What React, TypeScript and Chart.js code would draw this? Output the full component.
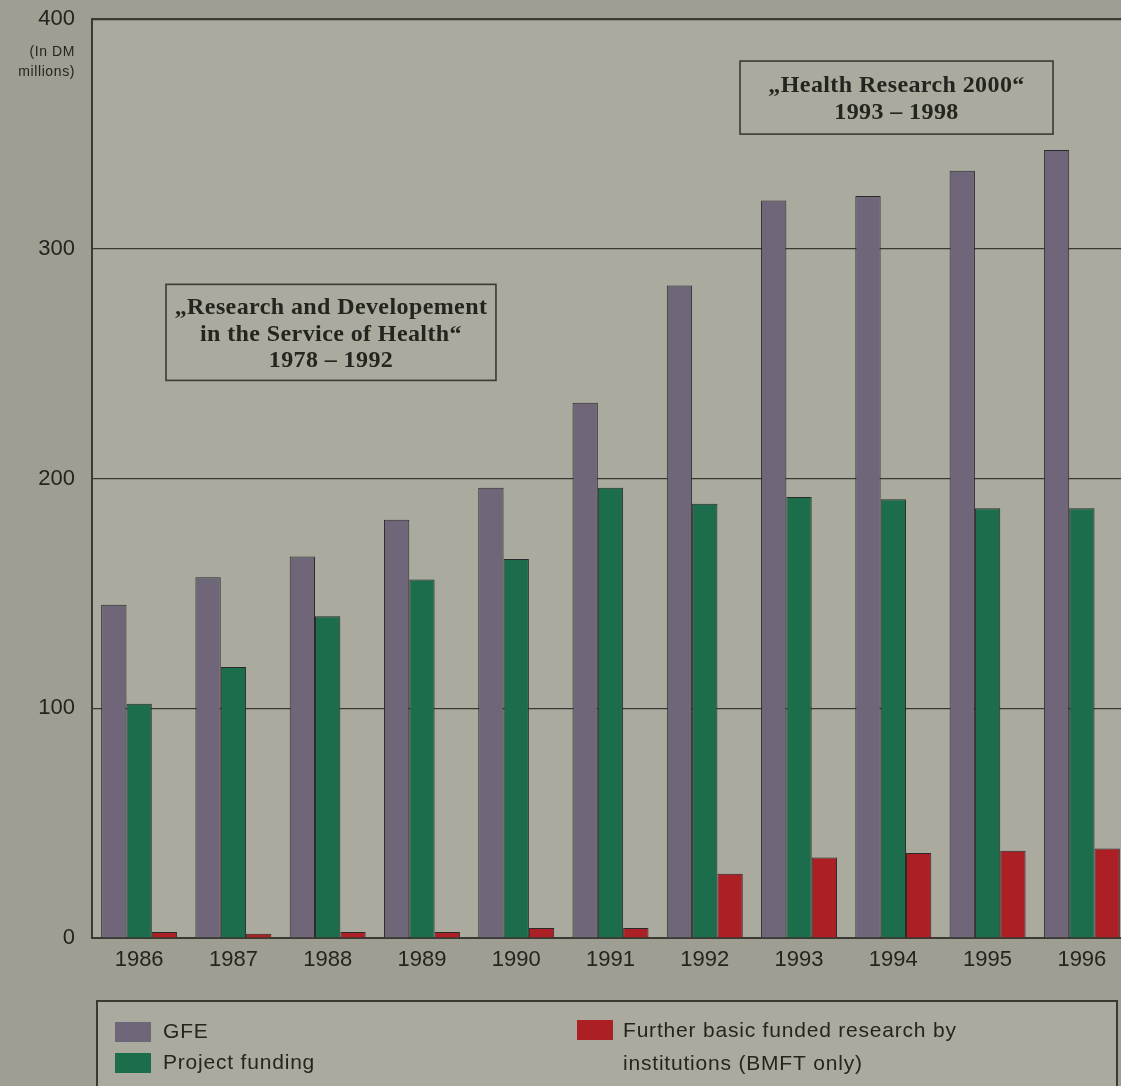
import React, { useEffect, useRef } from "react";
import { Chart, registerables } from "chart.js";

Chart.register(...registerables);

// ---- data ----
const years = ["1986", "1987", "1988", "1989", "1990", "1991", "1992", "1993", "1994", "1995", "1996"];
const gfe = [145, 157, 166, 182, 196, 233, 284, 321, 323, 334, 343];
const projectFunding = [102, 118, 140, 156, 165, 196, 189, 192, 191, 187, 187];
const furtherBasic = [2.6, 1.9, 2.6, 2.6, 4.4, 4.4, 28, 35, 37, 38, 39];
const yTickValues = [0, 100, 200, 300, 400];
const seriesLabels = ["GFE", "Project funding", "Further basic funded research by institutions (BMFT only)"];
const legendLines = [["GFE"], ["Project funding"], ["Further basic funded research by", "institutions (BMFT only)"]];
const axisNote = ["(In DM", "millions)"];
const researchBoxLines = ["\u201EResearch and Developement", "in the Service of Health\u201C", "1978 \u2013 1992"];
const healthBoxLines = ["\u201EHealth Research 2000\u201C", "1993 \u2013 1998"];

// ---- styles ----
const OUTER_BG = "#9f9e92";
const PLOT_BG = "#abaa9e";
const INK = "#25251f";
const LINE = "#3a3a33";
const COLORS = ["#6f6679", "#1c6d4b", "#ab1f25"];
const SANS = "'Liberation Sans', Arial, sans-serif";
const SERIF = "'Liberation Serif', 'Times New Roman', serif";

const decorPlugin = {
  id: "decor",
  beforeDraw(chart: any) {
    const { ctx, chartArea } = chart;
    ctx.save();
    ctx.fillStyle = OUTER_BG;
    ctx.fillRect(0, 0, chart.width, chart.height);
    ctx.fillStyle = PLOT_BG;
    ctx.fillRect(chartArea.left, chartArea.top, chartArea.right - chartArea.left, chartArea.bottom - chartArea.top);
    ctx.restore();
  },
  afterDraw(chart: any) {
    const { ctx, scales } = chart;
    const xs = scales.x;
    const ys = scales.y;
    ctx.save();

    // axis note under "400"
    ctx.fillStyle = INK;
    ctx.font = `14px ${SANS}`;
    ctx.textAlign = "right";
    ctx.textBaseline = "middle";
    (ctx as any).letterSpacing = "0.6px";
    const yTop = ys.getPixelForValue(400);
    ctx.fillText(axisNote[0], 75, yTop + 33);
    ctx.fillText(axisNote[1], 75, yTop + 53);

    // annotation boxes
    const drawBox = (x0: number, x1: number, v0: number, v1: number, lines: string[], offsets: number[]) => {
      const l = xs.getPixelForValue(x0);
      const r = xs.getPixelForValue(x1);
      const t = ys.getPixelForValue(v0);
      const b = ys.getPixelForValue(v1);
      ctx.fillStyle = PLOT_BG;
      ctx.fillRect(l, t, r - l, b - t);
      ctx.strokeStyle = LINE;
      ctx.lineWidth = 1.6;
      ctx.strokeRect(l, t, r - l, b - t);
      ctx.fillStyle = INK;
      ctx.font = `bold 24px ${SERIF}`;
      ctx.textAlign = "center";
      ctx.textBaseline = "alphabetic";
      (ctx as any).letterSpacing = "0.4px";
      lines.forEach((s, i) => ctx.fillText(s, (l + r) / 2, t + offsets[i]));
    };
    drawBox(0.285, 3.785, 284.5, 242.7, researchBoxLines, [30, 57, 83]);
    drawBox(6.374, 9.694, 381.7, 349.9, healthBoxLines, [31, 58]);

    // legend box
    ctx.fillStyle = PLOT_BG;
    ctx.fillRect(97, 1001, 1020, 120);
    ctx.strokeStyle = LINE;
    ctx.lineWidth = 2;
    ctx.strokeRect(97, 1001, 1020, 120);

    const items = [
      { sx: 115, sy: 1022, tx: 163, ty: [1032] },
      { sx: 115, sy: 1053, tx: 163, ty: [1063] },
      { sx: 577, sy: 1020, tx: 623, ty: [1031, 1064] },
    ];
    chart.data.datasets.forEach((ds: any, i: number) => {
      const it = items[i];
      ctx.fillStyle = ds.backgroundColor;
      ctx.fillRect(it.sx, it.sy, 36, 20);
      ctx.fillStyle = INK;
      ctx.font = `21px ${SANS}`;
      ctx.textAlign = "left";
      ctx.textBaseline = "middle";
      (ctx as any).letterSpacing = "0.8px";
      legendLines[i].forEach((s, j) => ctx.fillText(s, it.tx, it.ty[j]));
    });
    (ctx as any).letterSpacing = "0px";
    ctx.restore();
  },
};

export default function App() {
  const canvasRef = useRef<HTMLCanvasElement | null>(null);

  useEffect(() => {
    if (!canvasRef.current) return;
    const seriesData = [gfe, projectFunding, furtherBasic];
    const chart = new Chart(canvasRef.current, {
      type: "bar",
      data: {
        labels: years,
        datasets: seriesData.map((d, i) => ({
          label: seriesLabels[i],
          data: d,
          backgroundColor: COLORS[i],
          borderColor: "#2b2a2a",
          borderWidth: 1,
          categoryPercentage: 0.806,
          barPercentage: 1,
        })),
      },
      options: {
        responsive: false,
        animation: false,
        devicePixelRatio: 1,
        layout: { padding: { top: 19, right: 11, left: 0, bottom: 0 } },
        plugins: {
          legend: { display: false },
          tooltip: { enabled: false },
          title: { display: false },
        },
        scales: {
          x: {
            grid: { display: false, drawTicks: false },
            border: { display: true, color: LINE, width: 2 },
            ticks: {
              color: INK,
              font: { family: SANS, size: 22 },
              padding: 9,
              maxRotation: 0,
              autoSkip: false,
            },
            afterFit: (s: any) => {
              s.height = 148;
            },
          },
          y: {
            min: 0,
            max: 400,
            afterBuildTicks: (s: any) => {
              s.ticks = yTickValues.map((v) => ({ value: v }));
            },
            grid: {
              drawTicks: false,
              color: LINE,
              lineWidth: (c: any) => (c.tick && c.tick.value === 400 ? 2.2 : 1.2),
            },
            border: { display: true, color: LINE, width: 2 },
            ticks: {
              color: INK,
              font: { family: SANS, size: 22 },
              padding: 17,
            },
            afterFit: (s: any) => {
              s.width = 92;
              s.paddingTop = 0;
              s.paddingBottom = 0;
            },
          },
        },
      },
      plugins: [decorPlugin],
    });
    return () => chart.destroy();
  }, []);

  return (
    <div
      style={{
        position: "absolute",
        left: 0,
        top: 0,
        width: 1121,
        height: 1086,
        overflow: "hidden",
        background: OUTER_BG,
      }}
    >
      <canvas ref={canvasRef} width={1140} height={1086} style={{ display: "block", width: 1140, height: 1086 }} />
    </div>
  );
}
